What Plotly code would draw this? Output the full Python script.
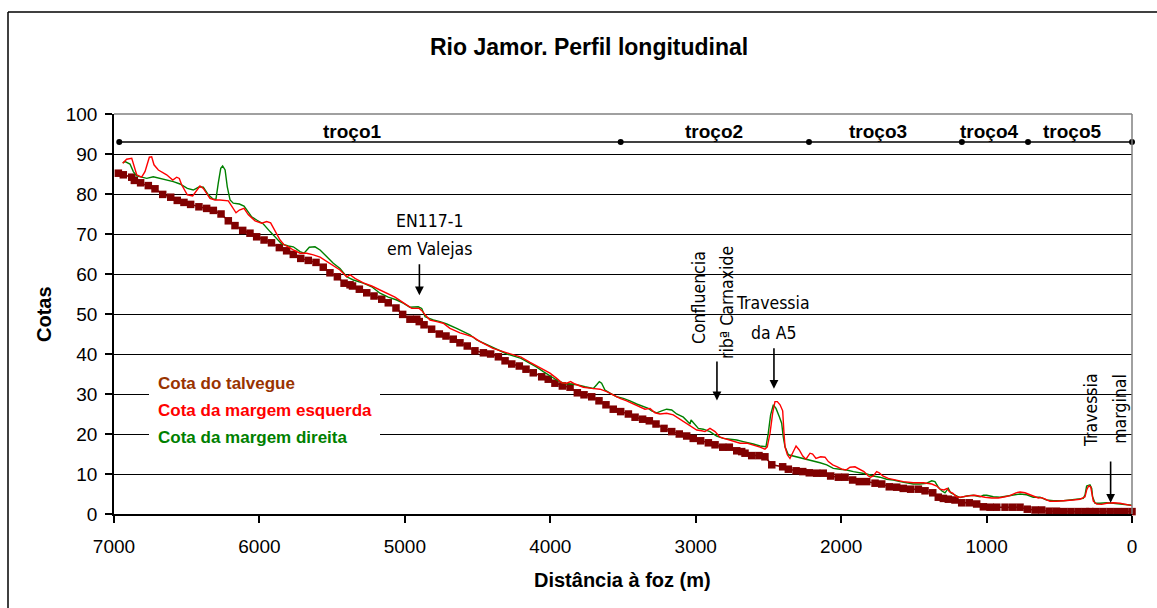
import plotly.graph_objects as go

# ---------------- data ----------------
# Cota do talvegue (distance to mouth in m, elevation in m)
talv_x = [6970, 6936, 6878, 6860, 6817, 6764, 6718, 6665, 6610, 6565, 6519, 6473, 6416, 6363, 6317,
          6264, 6214, 6168, 6115, 6065, 6019, 5968, 5917, 5863, 5813, 5767, 5716, 5664, 5611, 5561,
          5515, 5464, 5418, 5377, 5360, 5313, 5262, 5212, 5159, 5114, 5061, 5015, 4965, 4918, 4901,
          4868, 4816, 4763, 4717, 4667, 4621, 4571, 4518, 4460, 4410, 4357, 4311, 4265, 4213, 4167,
          4117, 4059, 4014, 3968, 3917, 3864, 3814, 3768, 3715, 3665, 3617, 3567, 3516, 3463, 3417,
          3365, 3319, 3273, 3218, 3165, 3113, 3062, 3017, 2966, 2913, 2867, 2814, 2769, 2718, 2684,
          2661, 2615, 2565, 2524, 2477, 2402, 2363, 2310, 2264, 2219, 2168, 2123, 2072, 2019, 1973,
          1921, 1875, 1824, 1767, 1721, 1669, 1618, 1573, 1522, 1469, 1423, 1370, 1332, 1297, 1263,
          1217, 1171, 1119, 1068, 1022, 976, 930, 873, 820, 770, 720, 667, 621, 570, 520,
          470, 420, 370, 320, 290, 250, 200, 150, 100, 50, 0]
talv_y = [85.2, 84.8, 84.2, 83.4, 82.8, 82.1, 81.3, 79.9, 79.2, 78.4, 77.9, 77.4, 76.8, 76.4, 75.9,
          75.0, 73.3, 72.1, 70.9, 70.2, 69.3, 68.5, 67.8, 66.6, 65.8, 64.9, 63.9, 63.4, 62.9, 61.7,
          60.3, 59.3, 57.7, 57.3, 57.0, 56.2, 55.3, 54.5, 53.7, 52.8, 51.5, 49.9, 48.7, 48.7, 48.1,
          47.3, 46.2, 45.0, 44.5, 43.7, 42.8, 42.0, 40.8, 40.3, 40.0, 39.3, 38.3, 37.5, 37.0, 36.2,
          35.3, 34.3, 33.7, 32.7, 32.0, 31.7, 30.3, 29.8, 29.3, 28.3, 27.3, 26.2, 25.6, 25.0, 24.2,
          23.7, 23.3, 22.5, 21.4, 20.6, 20.0, 19.5, 18.9, 18.3, 17.8, 17.3, 16.7, 16.7, 15.8, 15.6,
          15.2, 14.6, 14.6, 14.3, 12.3, 11.8, 11.2, 10.8, 10.6, 10.3, 10.2, 10.2, 9.5, 9.2, 9.2,
          8.5, 8.1, 8.1, 7.7, 7.5, 6.8, 6.7, 6.4, 6.2, 6.2, 5.8, 5.3, 4.2, 3.9, 3.7,
          3.5, 2.8, 2.8, 2.5, 1.8, 1.7, 1.7, 1.7, 1.7, 1.7, 1.2, 1.0, 1.0, 0.7, 0.7,
          0.6, 0.6, 0.6, 0.6, 0.6, 0.6, 0.6, 0.6, 0.6, 0.6, 0.6]

# Cota da margem esquerda
esq_x = [6940, 6913, 6878, 6867, 6844, 6810, 6787, 6757, 6741, 6725, 6695, 6638, 6596, 6569, 6551,
         6535, 6496, 6459, 6432, 6409, 6386, 6363, 6340, 6305, 6271, 6214, 6191, 6161, 6138, 6106,
         6076, 6030, 5984, 5950, 5923, 5893, 5858, 5831, 5801, 5767, 5721, 5675, 5629, 5583, 5515,
         5446, 5400, 5377, 5343, 5286, 5228, 5171, 5125, 5068, 5022, 4987, 4953, 4901, 4877, 4861,
         4827, 4781, 4736, 4690, 4621, 4575, 4529, 4483, 4437, 4394, 4298, 4201, 4139, 4093, 4048,
         4002, 3956, 3921, 3887, 3860, 3830, 3773, 3715, 3658, 3612, 3567, 3521, 3475, 3429, 3383,
         3349, 3314, 3280, 3246, 3200, 3154, 3108, 3062, 3028, 2993, 2959, 2936, 2902, 2867, 2833,
         2787, 2741, 2695, 2649, 2604, 2558, 2524, 2508, 2489, 2471, 2455, 2439, 2420, 2402, 2393,
         2386, 2370, 2352, 2333, 2310, 2288, 2264, 2242, 2214, 2196, 2173, 2141, 2111, 2088, 2058,
         2026, 1996, 1967, 1939, 1905, 1875, 1843, 1813, 1797, 1779, 1756, 1738, 1714, 1676, 1630,
         1573, 1504, 1435, 1377, 1343, 1320, 1293, 1270, 1256, 1233, 1206, 1183, 1148, 1114, 1080,
         1045, 1011, 965, 919, 873, 839, 798, 770, 736, 706, 674, 644, 621, 587, 564,
         518, 461, 404, 358, 323, 312, 298, 284, 277, 266, 243, 208, 174, 129, 83,
         36, 0]
esq_y = [87.7, 88.7, 88.9, 87.7, 84.8, 84.2, 85.6, 89.2, 89.3, 87.3, 86.0, 84.8, 83.5, 84.2, 83.9,
         82.3, 79.8, 79.5, 81.0, 82.0, 81.4, 80.2, 78.9, 78.5, 78.5, 78.3, 77.0, 75.3, 76.0, 76.4,
         74.8, 73.3, 72.7, 73.1, 72.8, 70.8, 68.5, 67.3, 66.8, 66.0, 65.2, 65.2, 64.8, 64.2, 62.7,
         61.0, 59.3, 59.8, 58.9, 57.8, 57.0, 56.0, 55.2, 54.2, 53.1, 52.3, 51.4, 51.4, 50.6, 49.8,
         48.5, 48.1, 47.7, 46.4, 45.3, 44.8, 44.2, 43.1, 42.3, 41.4, 40.3, 39.2, 37.9, 37.0, 36.2,
         35.2, 33.9, 32.8, 32.7, 33.1, 32.5, 31.7, 31.4, 31.2, 30.6, 29.8, 28.9, 28.3, 27.5, 26.7,
         26.2, 26.4, 25.3, 25.0, 25.2, 24.8, 23.7, 22.8, 22.0, 21.0, 20.8, 20.6, 21.4, 20.6, 19.2,
         18.7, 18.3, 17.7, 17.7, 17.3, 16.7, 16.2, 16.8, 20.2, 25.2, 28.1, 28.1, 27.3, 25.8, 20.2,
         16.8, 14.8, 13.9, 15.3, 17.0, 16.0, 14.5, 13.7, 15.2, 15.0, 13.9, 14.3, 14.2, 13.1, 12.3,
         11.8, 11.2, 11.0, 11.7, 11.8, 11.2, 10.6, 9.5, 9.2, 9.5, 10.6, 10.3, 9.5, 8.9, 8.5,
         8.1, 7.8, 7.8, 7.5, 7.0, 6.2, 6.0, 6.4, 5.6, 5.2, 4.3, 4.2, 4.5, 4.6, 4.7,
         4.4, 4.2, 4.0, 4.0, 4.3, 4.6, 5.3, 5.5, 5.3, 4.9, 4.3, 4.0, 4.1, 3.6, 3.2,
         3.2, 3.3, 3.5, 3.7, 4.3, 6.0, 7.0, 6.8, 5.3, 3.2, 2.5, 2.4, 2.7, 2.8, 2.7,
         2.4, 2.1]

# Cota da margem direita
dir_x = [6940, 6924, 6890, 6867, 6844, 6810, 6775, 6730, 6684, 6638, 6592, 6546, 6496, 6455, 6413,
         6386, 6351, 6317, 6299, 6283, 6266, 6253, 6236, 6221, 6202, 6180, 6138, 6106, 6088, 6053,
         6019, 5973, 5927, 5893, 5847, 5801, 5767, 5721, 5693, 5657, 5618, 5583, 5537, 5492, 5446,
         5400, 5354, 5286, 5228, 5171, 5114, 5056, 5011, 4965, 4908, 4884, 4861, 4804, 4758, 4712,
         4644, 4598, 4552, 4506, 4437, 4368, 4298, 4201, 4139, 4093, 4048, 4002, 3956, 3910, 3864,
         3818, 3761, 3704, 3681, 3663, 3647, 3624, 3589, 3543, 3498, 3452, 3406, 3360, 3326, 3303,
         3268, 3234, 3200, 3165, 3131, 3085, 3051, 3039, 3032, 3017, 2982, 2948, 2902, 2856, 2810,
         2764, 2718, 2673, 2627, 2604, 2558, 2517, 2501, 2485, 2466, 2448, 2425, 2409, 2398, 2386,
         2363, 2329, 2283, 2237, 2191, 2145, 2099, 2054, 2008, 1962, 1916, 1870, 1824, 1779, 1733,
         1687, 1641, 1595, 1549, 1504, 1458, 1412, 1377, 1355, 1332, 1309, 1286, 1263, 1247, 1217,
         1183, 1137, 1091, 1045, 1022, 999, 954, 908, 862, 816, 770, 724, 679, 633, 587,
         541, 472, 426, 369, 335, 323, 312, 289, 277, 271, 254, 220, 174, 129, 83,
         36, 0]
dir_y = [87.8, 88.1, 87.5, 85.6, 84.5, 84.2, 83.9, 84.3, 83.9, 83.5, 83.1, 82.5, 81.4, 81.0, 81.8,
         81.7, 79.8, 78.7, 78.7, 82.7, 86.4, 87.0, 86.0, 81.8, 78.5, 77.7, 77.5, 77.0, 76.0, 74.3,
         73.5, 72.5, 70.6, 69.3, 67.5, 67.0, 66.8, 65.6, 65.2, 66.7, 66.8, 66.0, 64.3, 62.7, 61.4,
         59.3, 58.5, 57.7, 56.8, 55.2, 54.2, 53.5, 52.7, 51.7, 51.8, 51.4, 49.3, 48.5, 48.1, 47.5,
         46.4, 45.6, 44.8, 43.5, 42.3, 41.2, 40.0, 38.9, 37.7, 36.7, 35.6, 34.5, 33.5, 32.7, 32.5,
         32.3, 31.8, 31.4, 32.3, 33.1, 32.7, 31.0, 30.2, 29.3, 28.9, 28.3, 27.5, 26.8, 26.4, 25.8,
         25.3, 25.8, 26.2, 26.0, 25.0, 24.2, 23.1, 22.5, 23.5, 22.8, 21.4, 21.2, 20.6, 19.5, 18.9,
         18.7, 18.5, 18.1, 17.8, 17.5, 17.0, 16.8, 20.2, 24.8, 27.3, 26.4, 24.3, 22.7, 19.3, 16.8,
         14.8, 14.5, 14.2, 13.7, 13.3, 12.8, 12.3, 11.4, 11.2, 11.0, 10.6, 10.3, 10.0, 9.5, 9.2,
         8.7, 8.5, 8.1, 7.8, 7.5, 7.5, 7.7, 8.3, 8.1, 6.7, 5.8, 5.3, 6.4, 5.3, 4.8,
         4.1, 4.5, 4.7, 4.3, 4.7, 4.7, 4.3, 4.2, 4.5, 4.8, 5.0, 4.8, 4.2, 4.2, 3.5,
         3.3, 3.3, 3.5, 3.7, 3.9, 4.8, 7.0, 7.3, 6.4, 4.3, 2.7, 2.7, 2.8, 2.7, 2.5,
         2.4, 2.2]

# river reaches (troços): boundaries and labels
troco_x = [6964, 3516, 2221, 1170, 715, 0]
troco_y = [93, 93, 93, 93, 93, 93]
troco_names = ["troço1", "troço2", "troço3", "troço4", "troço5"]
troco_name_x = [5361, 2871, 1747, 983, 408]
troco_name_y = [95.7, 95.7, 95.7, 95.7, 95.7]

x_ticks = [7000, 6000, 5000, 4000, 3000, 2000, 1000, 0]
y_ticks = [0, 10, 20, 30, 40, 50, 60, 70, 80, 90, 100]

series_names = ["Cota do talvegue", "Cota da margem esquerda", "Cota da margem direita"]

# ---------------- layout helpers ----------------
W, H = 1157, 608
L, R, T, B = 114, 1132, 114, 514


def fx(px):
    return (px - L) / (R - L)


def fy(py):
    return (B - py) / (B - T)


FONT = "Liberation Sans, Arial, sans-serif"
NARROW = "Liberation Sans Narrow, Arial Narrow, DejaVu Sans Condensed, sans-serif"

TALV = "#800000"
TALV_TXT = "#993300"
ESQ = "#FF0000"
DIR = "#008000"

fig = go.Figure()

fig.add_trace(go.Scatter(x=troco_x, y=troco_y, mode="lines+markers",
                         line=dict(color="black", width=1.5),
                         marker=dict(color="black", size=6),
                         cliponaxis=False, showlegend=False, hoverinfo="skip"))

fig.add_trace(go.Scatter(x=talv_x, y=talv_y, name=series_names[0], mode="lines+markers",
                         line=dict(color=TALV, width=1.5),
                         marker=dict(symbol="square", size=7.5, color=TALV),
                         cliponaxis=False, showlegend=False))
fig.add_trace(go.Scatter(x=dir_x, y=dir_y, name=series_names[2], mode="lines",
                         line=dict(color=DIR, width=1.4), showlegend=False))
fig.add_trace(go.Scatter(x=esq_x, y=esq_y, name=series_names[1], mode="lines",
                         line=dict(color=ESQ, width=1.4), showlegend=False))

annotations = []
# chart title
annotations.append(dict(text="<b>Rio Jamor. Perfil longitudinal</b>", x=fx(589), y=fy(47),
                        xref="paper", yref="paper", showarrow=False,
                        font=dict(family=FONT, size=23, color="black"),
                        xanchor="center", yanchor="middle"))
# axis titles
annotations.append(dict(text="<b>Distância à foz (m)</b>", x=fx(622), y=fy(580),
                        xref="paper", yref="paper", showarrow=False,
                        font=dict(family=FONT, size=20, color="black"),
                        xanchor="center", yanchor="middle"))
annotations.append(dict(text="<b>Cotas</b>", x=fx(44), y=fy(314), textangle=-90,
                        xref="paper", yref="paper", showarrow=False,
                        font=dict(family=FONT, size=20, color="black"),
                        xanchor="center", yanchor="middle"))
# troço labels
for name, tx, ty in zip(troco_names, troco_name_x, troco_name_y):
    annotations.append(dict(text="<b>%s</b>" % name, x=tx, y=ty, xref="x", yref="y",
                            showarrow=False, font=dict(family=FONT, size=19, color="black"),
                            xanchor="center", yanchor="middle"))

# legend (text only, white box)
leg_colors = [TALV_TXT, ESQ, DIR]
leg_py = [383, 410, 437]
for name, col, py in zip(series_names, leg_colors, leg_py):
    annotations.append(dict(text="<b>%s</b>" % name, x=fx(156), y=fy(py), xref="paper", yref="paper",
                            showarrow=False, font=dict(family=FONT, size=17, color=col),
                            xanchor="left", yanchor="middle"))

# notes
note_font = dict(family=NARROW, size=17.5, color="black")
annotations += [
    dict(text="EN117-1", x=4834, y=73.2, xref="x", yref="y", showarrow=False, font=note_font),
    dict(text="em Valejas", x=4834, y=66.3, xref="x", yref="y", showarrow=False, font=note_font),
    dict(text="Confluencia", x=2977, y=54.0, xref="x", yref="y", showarrow=False,
         font=note_font, textangle=-90),
    dict(text="ribª Carnaxide", x=2785, y=53.0, xref="x", yref="y", showarrow=False,
         font=note_font, textangle=-90),
    dict(text="Travessia", x=2468, y=52.7, xref="x", yref="y", showarrow=False, font=note_font),
    dict(text="da A5", x=2468, y=45.3, xref="x", yref="y", showarrow=False, font=note_font),
    dict(text="Travessia", x=282, y=26.0, xref="x", yref="y", showarrow=False,
         font=note_font, textangle=-90),
    dict(text="marginal", x=83, y=26.3, xref="x", yref="y", showarrow=False,
         font=note_font, textangle=-90),
]
# arrows (tip -> from tail)
arrows = [(4900, 54.7, 4900, 62.8), (2854, 28.4, 2854, 38.5),
          (2462, 31.3, 2462, 41.8), (147, 2.8, 147, 13.5)]
for x, y, ax, ay in arrows:
    annotations.append(dict(text="", x=x, y=y, ax=ax, ay=ay, xref="x", yref="y",
                            axref="x", ayref="y", showarrow=True, arrowhead=2,
                            arrowsize=1.1, arrowwidth=1.6, arrowcolor="black", standoff=0,
                            startstandoff=0))

shapes = [
    # legend white box
    dict(type="rect", xref="paper", yref="paper", x0=fx(149), x1=fx(380), y0=fy(452), y1=fy(368),
         fillcolor="white", line=dict(width=0), layer="above"),
    # plot area border (grey) top and right
    dict(type="line", xref="paper", yref="paper", x0=0, x1=1, y0=1, y1=1,
         line=dict(color="#808080", width=1.5), layer="above"),
    dict(type="line", xref="paper", yref="paper", x0=1, x1=1, y0=0, y1=1,
         line=dict(color="#808080", width=1.5), layer="above"),
    # outer chart frame
    dict(type="line", xref="paper", yref="paper", x0=fx(8), x1=fx(1170), y0=fy(12), y1=fy(12),
         line=dict(color="black", width=1.5)),
    dict(type="line", xref="paper", yref="paper", x0=fx(8), x1=fx(8), y0=fy(12), y1=fy(620),
         line=dict(color="black", width=1.5)),
]

fig.update_layout(
    width=W, height=H,
    margin=dict(l=L, r=W - R, t=T, b=H - B, pad=0),
    paper_bgcolor="white", plot_bgcolor="white",
    font=dict(family=FONT, size=19, color="black"),
    annotations=annotations, shapes=shapes, showlegend=False,
)
fig.update_xaxes(range=[7000, 0], tickvals=x_ticks, ticktext=[str(v) for v in x_ticks],
                 showgrid=False, zeroline=False, showline=True, linecolor="black", linewidth=1.5,
                 ticks="outside", ticklen=7, tickwidth=1.5, tickcolor="black",
                 tickfont=dict(family=FONT, size=19, color="black"), ticklabelstandoff=7)
fig.update_yaxes(range=[0, 100], tickvals=y_ticks, ticktext=[str(v) for v in y_ticks],
                 showgrid=True, gridcolor="black", gridwidth=1, zeroline=False,
                 showline=True, linecolor="black", linewidth=1.5,
                 ticks="outside", ticklen=7, tickwidth=1.5, tickcolor="black",
                 tickfont=dict(family=FONT, size=19, color="black"), ticklabelstandoff=4)

fig.write_html("out.html")
